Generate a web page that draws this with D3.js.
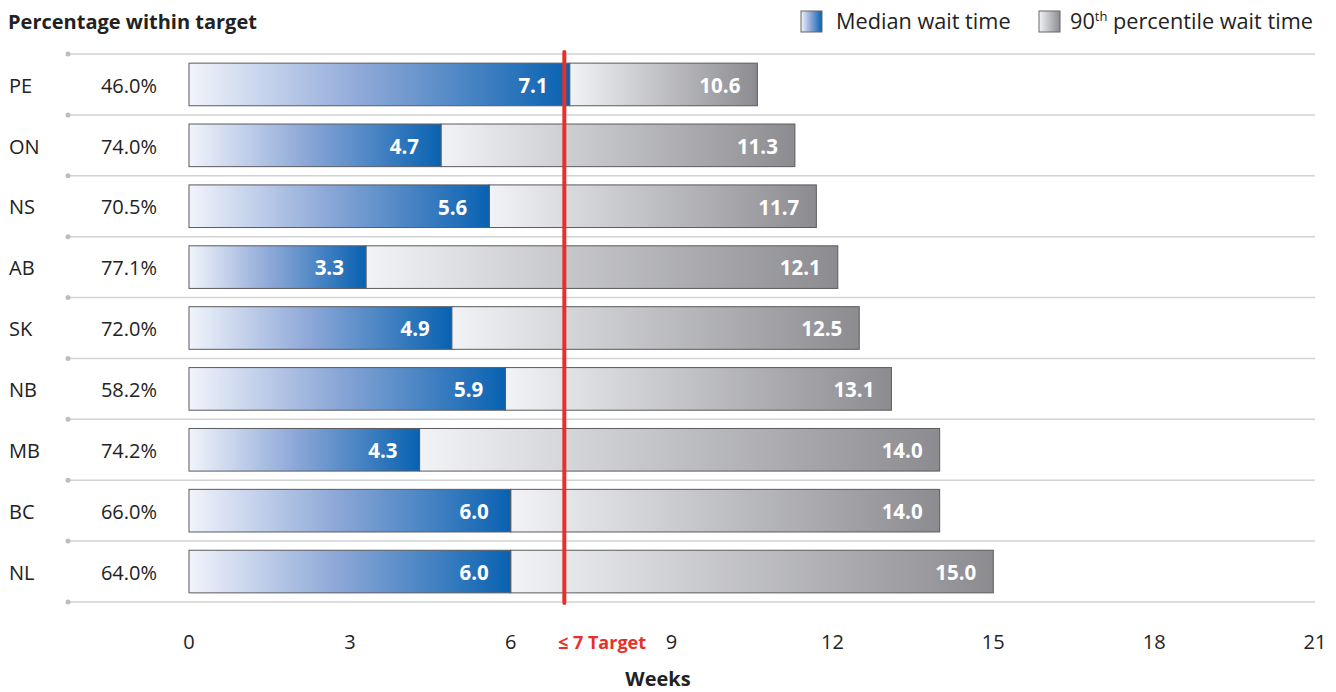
<!DOCTYPE html>
<html><head><meta charset="utf-8">
<script src="https://cdn.jsdelivr.net/npm/d3@7"></script>
<style>body{margin:0;background:#fff}svg{display:block}text{font-family:"Open Sans",sans-serif}</style>
</head><body><svg id="c" width="1336" height="692"></svg>
<script>
const provinces = ["PE","ON","NS","AB","SK","NB","MB","BC","NL"];
const pctWithin = ["46.0%","74.0%","70.5%","77.1%","72.0%","58.2%","74.2%","66.0%","64.0%"];
const medianWeeks = [7.1,4.7,5.6,3.3,4.9,5.9,4.3,6.0,6.0];
const p90Weeks = [10.6,11.3,11.7,12.1,12.5,13.1,14.0,14.0,15.0];
const xTicks = [0,3,6,9,12,15,18,21];
const targetWeeks = 7;

const svg = d3.select("#c");
const x = d3.scaleLinear().domain([0,21]).range([189,1315]);
const y = d3.scaleBand().domain(provinces).range([54,602]).paddingInner(0.3).paddingOuter(0.15);
const rowStep = (602-54)/provinces.length;

const defs = svg.append("defs");
const gb = defs.append("linearGradient").attr("id","gBlue");
gb.append("stop").attr("offset","0").attr("stop-color","#f1f4fb");
gb.append("stop").attr("offset","0.45").attr("stop-color","#8fa9d8");
gb.append("stop").attr("offset","1").attr("stop-color","#0862b1");
const gg = defs.append("linearGradient").attr("id","gGray");
gg.append("stop").attr("offset","0").attr("stop-color","#f2f3f7");
gg.append("stop").attr("offset","1").attr("stop-color","#8b8b90");

// gridlines
const gl = d3.range(provinces.length+1).map(i => 54 + i*rowStep);
svg.selectAll(".grid").data(gl).join("line")
  .attr("x1",68).attr("x2",1315).attr("y1",d=>d).attr("y2",d=>d)
  .attr("stroke","#d2d2d2").attr("stroke-width",1.5);
svg.selectAll(".dot").data(gl).join("circle")
  .attr("cx",68).attr("cy",d=>d).attr("r",2.5).attr("fill","#bdbdbd");

// bars
const rows = provinces.map((p,i)=>({p,pct:pctWithin[i],m:medianWeeks[i],q:p90Weeks[i]}));
const g = svg.append("g");
g.selectAll(".gray").data(rows).join("rect")
  .attr("x",d=>x(d.m)).attr("y",d=>y(d.p)).attr("width",d=>x(d.q)-x(d.m)).attr("height",y.bandwidth())
  .attr("fill","url(#gGray)").attr("stroke","#5a5a5f").attr("stroke-width",1);
g.selectAll(".blue").data(rows).join("rect")
  .attr("x",x(0)).attr("y",d=>y(d.p)).attr("width",d=>x(d.m)-x(0)).attr("height",y.bandwidth())
  .attr("fill","url(#gBlue)").attr("stroke","#5a5a5f").attr("stroke-width",1);

const cy = d => y(d.p)+y.bandwidth()/2 + 1;
g.selectAll(".ml").data(rows).join("text")
  .attr("x",d=>x(d.m)-22).attr("y",cy).attr("dy","0.36em")
  .attr("text-anchor","end").attr("fill","#fff").attr("font-weight","bold").attr("font-size",20.5)
  .text(d=>d.m.toFixed(1));
g.selectAll(".ql").data(rows).join("text")
  .attr("x",d=>x(d.q)-17).attr("y",cy).attr("dy","0.36em")
  .attr("text-anchor","end").attr("fill","#fff").attr("font-weight","bold").attr("font-size",20.5)
  .text(d=>d.q.toFixed(1));

// left labels
g.selectAll(".cat").data(rows).join("text")
  .attr("x",9).attr("y",cy).attr("dy","0.36em")
  .attr("fill","#222").attr("font-size",20).text(d=>d.p);
g.selectAll(".pct").data(rows).join("text")
  .attr("x",157).attr("y",cy).attr("dy","0.36em").attr("text-anchor","end")
  .attr("fill","#222").attr("font-size",20).text(d=>d.pct);

// target line
svg.append("line").attr("x1",x(targetWeeks)).attr("x2",x(targetWeeks)).attr("y1",52).attr("y2",603)
  .attr("stroke","#e8302a").attr("stroke-width",4).attr("stroke-linecap","round");

// x axis
svg.selectAll(".tick").data(xTicks).join("text")
  .attr("x",d=>x(d)).attr("y",649).attr("text-anchor","middle").attr("fill","#222").attr("font-size",20)
  .text(d=>d);
svg.append("text").attr("x",602).attr("y",649).attr("text-anchor","middle").attr("fill","#e8302a")
  .attr("font-weight","bold").attr("font-size",18).text("≤ 7 Target");
svg.append("text").attr("x",658).attr("y",686).attr("text-anchor","middle").attr("fill","#222")
  .attr("font-weight","bold").attr("font-size",20).text("Weeks");

// title
svg.append("text").attr("x",8).attr("y",29).attr("fill","#222").attr("font-weight","bold").attr("font-size",20)
  .text("Percentage within target");

// legend
svg.append("rect").attr("x",801).attr("y",11).attr("width",21).attr("height",21)
  .attr("fill","url(#gBlue)").attr("stroke","#666");
svg.append("text").attr("x",836).attr("y",29).attr("fill","#222").attr("font-size",21.7).text("Median wait time");
svg.append("rect").attr("x",1039).attr("y",11).attr("width",21).attr("height",21)
  .attr("fill","url(#gGray)").attr("stroke","#666");
const lt = svg.append("text").attr("x",1070).attr("y",29).attr("fill","#222").attr("font-size",21.7);
lt.append("tspan").text("90");
lt.append("tspan").attr("dy",-8).attr("font-size",13).text("th");
lt.append("tspan").attr("dy",8).text(" percentile wait time");
</script></body></html>
